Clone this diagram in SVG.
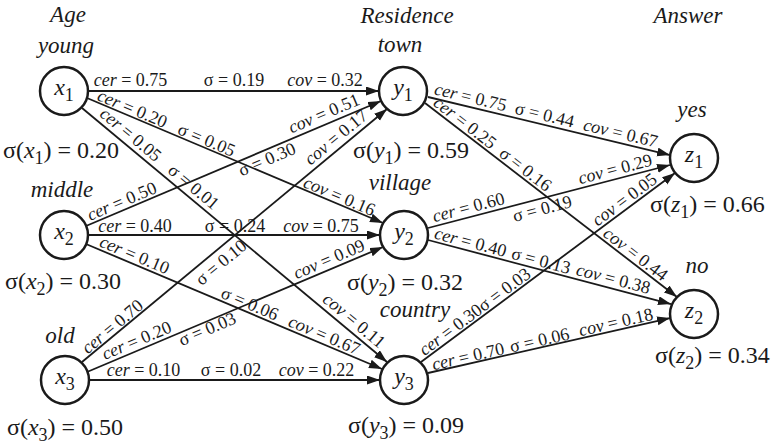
<svg xmlns="http://www.w3.org/2000/svg" width="771" height="445" viewBox="0 0 771 445" font-family="'Liberation Serif', 'DejaVu Serif', serif">
<defs>
<marker id="ah" markerUnits="userSpaceOnUse" markerWidth="14" markerHeight="10" refX="13" refY="4.5" orient="auto">
<path d="M0,0 L13,4.5 L0,9 z" fill="#1a1a1a"/>
</marker>
<style>
text{font-family:'Liberation Serif','DejaVu Serif',serif;fill:#1a1a1a}
.e line{stroke:#1a1a1a;stroke-width:1.8;marker-end:url(#ah)}
.e text{font-size:18px;text-anchor:middle}
.i{font-style:italic}
.cat{font-size:23px;font-style:italic;text-anchor:middle}
.big{font-size:24px}
.nm{font-size:24px;text-anchor:middle}
.sb{font-size:18px;font-style:normal}
.nd circle{fill:#fff;stroke:#1a1a1a;stroke-width:2.5}
</style>
</defs>
<rect width="771" height="445" fill="#fff"/>
<g id="connectors">
<g class="e" id="e-x1-y1" transform="translate(88,91)"><line x1="0" y1="0" x2="291" y2="0"/>
<text x="42.5" y="-5"><tspan class="i">cer</tspan> = 0.75</text><text x="146" y="-5">σ = 0.19</text><text x="237" y="-5"><tspan class="i">cov</tspan> = 0.32</text></g>
<g class="e" id="e-x1-y2" transform="translate(87,98) rotate(22.89)"><line x1="0" y1="0" x2="321.3" y2="0"/>
<text x="46" y="-2"><tspan class="i">cer</tspan> = 0.20</text><text x="126.5" y="-2">σ = 0.05</text><text x="270.7" y="-2"><tspan class="i">cov</tspan> = 0.16</text></g>
<g class="e" id="e-x1-y3" transform="translate(82,108) rotate(39.79)"><line x1="0" y1="0" x2="396.9" y2="0"/>
<text x="54.4" y="-5"><tspan class="i">cer</tspan> = 0.05</text><text x="136.2" y="-5">σ = 0.01</text><text x="345" y="-5"><tspan class="i">cov</tspan> = 0.11</text></g>
<g class="e" id="e-x2-y1" transform="translate(86,226) rotate(-22.96)"><line x1="0" y1="0" x2="320.4" y2="0"/>
<text x="42.6" y="-3"><tspan class="i">cer</tspan> = 0.50</text><text x="192.7" y="15">σ = 0.30</text><text x="263" y="-5"><tspan class="i">cov</tspan> = 0.51</text></g>
<g class="e" id="e-x2-y2" transform="translate(88,235)"><line x1="0" y1="0" x2="292" y2="0"/>
<text x="47" y="-3"><tspan class="i">cer</tspan> = 0.40</text><text x="147" y="-3">σ = 0.24</text><text x="233" y="-3"><tspan class="i">cov</tspan> = 0.75</text></g>
<g class="e" id="e-x2-y3" transform="translate(86,244) rotate(22.89)"><line x1="0" y1="0" x2="321.3" y2="0"/>
<text x="49" y="-3"><tspan class="i">cer</tspan> = 0.10</text><text x="174" y="-3">σ = 0.06</text><text x="255" y="-3"><tspan class="i">cov</tspan> = 0.67</text></g>
<g class="e" id="e-x3-y1" transform="translate(82,362) rotate(-39.68)"><line x1="0" y1="0" x2="396.3" y2="0"/>
<text x="46" y="-2"><tspan class="i">cer</tspan> = 0.70</text><text x="170.6" y="18">σ = 0.10</text><text x="339" y="-5"><tspan class="i">cov</tspan> = 0.17</text></g>
<g class="e" id="e-x3-y2" transform="translate(87,372) rotate(-22.89)"><line x1="0" y1="0" x2="321.3" y2="0"/>
<text x="58" y="-4"><tspan class="i">cer</tspan> = 0.20</text><text x="127.5" y="13">σ = 0.03</text><text x="266.8" y="-4"><tspan class="i">cov</tspan> = 0.09</text></g>
<g class="e" id="e-x3-y3" transform="translate(88,380)"><line x1="0" y1="0" x2="292" y2="0"/>
<text x="55.5" y="-4"><tspan class="i">cer</tspan> = 0.10</text><text x="143" y="-4">σ = 0.02</text><text x="228.5" y="-4"><tspan class="i">cov</tspan> = 0.22</text></g>
<g class="e" id="e-y1-z1" transform="translate(428,97) rotate(13.48)"><line x1="0" y1="0" x2="248.9" y2="0"/>
<text x="41.4" y="-4"><tspan class="i">cer</tspan> = 0.75</text><text x="117.6" y="-4">σ = 0.44</text><text x="195.7" y="-4"><tspan class="i">cov</tspan> = 0.67</text></g>
<g class="e" id="e-y1-z2" transform="translate(425,103) rotate(37.59)"><line x1="0" y1="0" x2="318" y2="0"/>
<text x="43.7" y="-3"><tspan class="i">cer</tspan> = 0.25</text><text x="120" y="-3">σ = 0.16</text><text x="259" y="-3"><tspan class="i">cov</tspan> = 0.44</text></g>
<g class="e" id="e-y2-z1" transform="translate(428,228) rotate(-14.59)"><line x1="0" y1="0" x2="250.1" y2="0"/>
<text x="44.4" y="-4"><tspan class="i">cer</tspan> = 0.60</text><text x="115.5" y="16">σ = 0.19</text><text x="196" y="-4"><tspan class="i">cov</tspan> = 0.29</text></g>
<g class="e" id="e-y2-z2" transform="translate(428,240) rotate(14.76)"><line x1="0" y1="0" x2="251.3" y2="0"/>
<text x="41.7" y="-3"><tspan class="i">cer</tspan> = 0.40</text><text x="114.6" y="-3">σ = 0.13</text><text x="189.1" y="-4"><tspan class="i">cov</tspan> = 0.38</text></g>
<g class="e" id="e-y3-z1" transform="translate(421,362) rotate(-36.65)"><line x1="0" y1="0" x2="316.6" y2="0"/>
<text x="73.2" y="-2.5"><tspan class="i">cer</tspan> = 0.30σ = 0.03</text><text x="260.2" y="-3"><tspan class="i">cov</tspan> = 0.05</text></g>
<g class="e" id="e-y3-z2" transform="translate(428,373) rotate(-12.8)"><line x1="0" y1="0" x2="248.2" y2="0"/>
<text x="42.7" y="-1.5"><tspan class="i">cer</tspan> = 0.70</text><text x="116" y="-1.5">σ = 0.06</text><text x="194.5" y="-2"><tspan class="i">cov</tspan> = 0.18</text></g>
</g>
<g id="header">
<text class="cat" x="68" y="22">Age</text>
<text class="cat" x="407" y="23">Residence</text>
<text class="cat" x="688" y="23">Answer</text>
</g>
<g class="nd" id="x1"><circle cx="64" cy="91" r="24"/><text class="nm" x="64" y="95"><tspan class="i">x</tspan><tspan class="sb" dy="6">1</tspan></text>
<text class="cat" x="66" y="53">young</text>
<text class="big" x="3" y="158">σ(<tspan class="i">x</tspan><tspan class="sb" dy="6">1</tspan><tspan dy="-6">) = 0.20</tspan></text></g>
<g class="nd" id="x2"><circle cx="64" cy="235" r="24"/><text class="nm" x="64" y="239"><tspan class="i">x</tspan><tspan class="sb" dy="6">2</tspan></text>
<text class="cat" x="62" y="197">middle</text>
<text class="big" x="5" y="289">σ(<tspan class="i">x</tspan><tspan class="sb" dy="6">2</tspan><tspan dy="-6">) = 0.30</tspan></text></g>
<g class="nd" id="x3"><circle cx="65" cy="380" r="24"/><text class="nm" x="65" y="384"><tspan class="i">x</tspan><tspan class="sb" dy="6">3</tspan></text>
<text class="cat" x="60" y="343">old</text>
<text class="big" x="7" y="435">σ(<tspan class="i">x</tspan><tspan class="sb" dy="6">3</tspan><tspan dy="-6">) = 0.50</tspan></text></g>
<g class="nd" id="y1"><circle cx="403" cy="91" r="24"/><text class="nm" x="403" y="95"><tspan class="i">y</tspan><tspan class="sb" dy="6">1</tspan></text>
<text class="cat" x="400" y="52">town</text>
<text class="big" x="353" y="158">σ(<tspan class="i">y</tspan><tspan class="sb" dy="6">1</tspan><tspan dy="-6">) = 0.59</tspan></text></g>
<g class="nd" id="y2"><circle cx="404" cy="235" r="24"/><text class="nm" x="404" y="239"><tspan class="i">y</tspan><tspan class="sb" dy="6">2</tspan></text>
<text class="cat" x="400" y="190">village</text>
<text class="big" x="347" y="290">σ(<tspan class="i">y</tspan><tspan class="sb" dy="6">2</tspan><tspan dy="-6">) = 0.32</tspan></text></g>
<g class="nd" id="y3"><circle cx="404" cy="380" r="24"/><text class="nm" x="404" y="384"><tspan class="i">y</tspan><tspan class="sb" dy="6">3</tspan></text>
<text class="cat" x="415" y="317">country</text>
<text class="big" x="348" y="433">σ(<tspan class="i">y</tspan><tspan class="sb" dy="6">3</tspan><tspan dy="-6">) = 0.09</tspan></text></g>
<g class="nd" id="z1"><circle cx="694" cy="158" r="24"/><text class="nm" x="694" y="162"><tspan class="i">z</tspan><tspan class="sb" dy="6">1</tspan></text>
<text class="cat" x="692" y="117">yes</text>
<text class="big" x="650" y="212">σ(<tspan class="i">z</tspan><tspan class="sb" dy="6">1</tspan><tspan dy="-6">) = 0.66</tspan></text></g>
<g class="nd" id="z2"><circle cx="694" cy="314" r="24"/><text class="nm" x="694" y="318"><tspan class="i">z</tspan><tspan class="sb" dy="6">2</tspan></text>
<text class="cat" x="697" y="273">no</text>
<text class="big" x="655" y="363">σ(<tspan class="i">z</tspan><tspan class="sb" dy="6">2</tspan><tspan dy="-6">) = 0.34</tspan></text></g>
</svg>
